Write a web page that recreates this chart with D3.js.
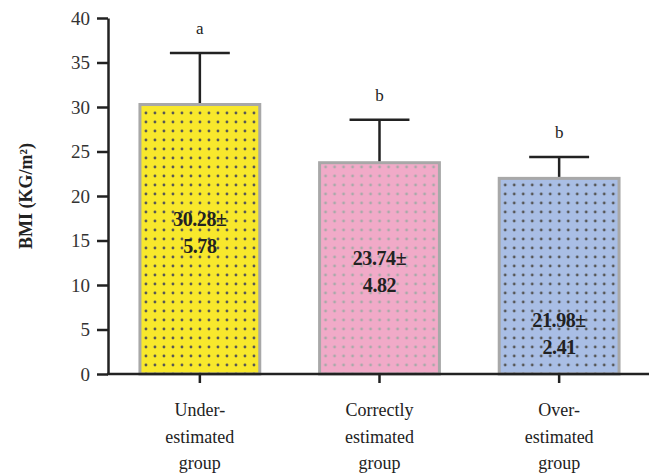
<!DOCTYPE html>
<html>
<head>
<meta charset="utf-8">
<script src="https://cdn.jsdelivr.net/npm/d3@7"></script>
<style>
  body { margin: 0; background: #fff; }
  svg { display: block; }
  svg text { font-family: "Liberation Serif", "Times New Roman", Times, serif; }
</style>
</head>
<body>
<div id="chart"></div>
<script>
// data
const groups = [["Under-", "estimated", "group"], ["Correctly", "estimated", "group"], ["Over-", "estimated", "group"]];
const means = [30.28, 23.74, 21.98];
const sds = [5.78, 4.82, 2.41];
const letters = ["a", "b", "b"];
const yTicks = [0, 5, 10, 15, 20, 25, 30, 35, 40];

const fills = ["#f8e82c", "#f1aac8", "#a9bee5"];
const dotColors = ["#555", "#a9a9a9", "#555"];
// where the mean±sd text sits inside each bar (data units)
const labelAt = [15.75, 11.35, 4.4];

const width = 652, height = 474;
const margin = {left: 108, right: 3, top: 18, bottom: 100};

const svg = d3.select("#chart").append("svg")
  .attr("width", width)
  .attr("height", height);

const x = d3.scaleBand()
  .domain(d3.range(groups.length))
  .range([margin.left + 2, width - margin.right])
  .paddingInner(0.333)
  .paddingOuter(0.1667);

const y = d3.scaleLinear()
  .domain([0, 40])
  .range([height - margin.bottom, margin.top]);

const defs = svg.append("defs");
fills.forEach(function(f, i) {
  const p = defs.append("pattern")
    .attr("id", "dots" + i)
    .attr("patternUnits", "userSpaceOnUse")
    .attr("width", 9)
    .attr("height", 9)
    .attr("x", x(i) + 3)
    .attr("y", 2);
  p.append("rect").attr("width", 9).attr("height", 9).attr("fill", f);
  p.append("circle").attr("cx", 3).attr("cy", 3).attr("r", 1.4).attr("fill", dotColors[i]);
});

// bars
svg.selectAll("rect.bar")
  .data(means)
  .join("rect")
    .attr("class", "bar")
    .attr("x", (d, i) => x(i))
    .attr("y", d => y(d))
    .attr("width", x.bandwidth())
    .attr("height", d => y(0) - y(d))
    .attr("fill", (d, i) => "url(#dots" + i + ")")
    .attr("stroke", "#a8a8a8")
    .attr("stroke-width", 3);

// error bars
const capW = x.bandwidth() / 2;
const err = svg.append("g").attr("stroke", "#222").attr("stroke-width", 2.5);
means.forEach(function(m, i) {
  const cx = x(i) + x.bandwidth() / 2;
  err.append("line")
    .attr("x1", cx).attr("x2", cx)
    .attr("y1", y(m) - 1.5).attr("y2", y(m + sds[i]));
  err.append("line")
    .attr("x1", cx - capW / 2).attr("x2", cx + capW / 2)
    .attr("y1", y(m + sds[i])).attr("y2", y(m + sds[i]));
});

// significance letters
svg.selectAll("text.letter")
  .data(letters)
  .join("text")
    .attr("class", "letter")
    .attr("x", (d, i) => x(i) + x.bandwidth() / 2)
    .attr("y", (d, i) => y(means[i] + sds[i]) - 19)
    .attr("text-anchor", "middle")
    .attr("font-size", 17)
    .attr("fill", "#222")
    .text(d => d);

// mean ± sd labels
means.forEach(function(m, i) {
  const cx = x(i) + x.bandwidth() / 2;
  const t = svg.append("text")
    .attr("x", cx)
    .attr("y", y(labelAt[i]))
    .attr("text-anchor", "middle")
    .attr("font-size", 20)
    .attr("font-weight", "bold")
    .attr("letter-spacing", -0.4)
    .attr("fill", "#222");
  t.append("tspan").attr("x", cx).attr("dy", -8).text(m.toFixed(2) + "±");
  t.append("tspan").attr("x", cx).attr("dy", 27).text(sds[i].toFixed(2));
});

// y axis
const yAxis = svg.append("g")
  .attr("transform", "translate(" + margin.left + ",0)")
  .call(d3.axisLeft(y).tickValues(yTicks).tickSize(11).tickPadding(7).tickSizeOuter(0));
yAxis.attr("font-family", null);
yAxis.select(".domain").attr("stroke", "#222").attr("stroke-width", 2.5);
yAxis.selectAll(".tick line").attr("stroke", "#222").attr("stroke-width", 2.5);
yAxis.selectAll(".tick text")
  .attr("font-size", 19)
  .attr("fill", "#333");

// x axis
const xAxis = svg.append("g")
  .attr("transform", "translate(0," + y(0) + ")")
  .call(d3.axisBottom(x).tickSize(9).tickSizeOuter(0).tickFormat(""));
xAxis.select(".domain").attr("stroke", "#222").attr("stroke-width", 2.5)
  .attr("d", "M" + (margin.left - 1) + ",0H" + (width - margin.right));
xAxis.selectAll(".tick line").attr("stroke", "#222").attr("stroke-width", 2.5);

groups.forEach(function(lines, i) {
  const t = svg.append("text")
    .attr("text-anchor", "middle")
    .attr("font-size", 18)
    .attr("fill", "#222")
    .attr("y", y(0) + 42);
  lines.forEach(function(l, k) {
    t.append("tspan")
      .attr("x", x(i) + x.bandwidth() / 2)
      .attr("dy", k === 0 ? 0 : 26.5)
      .text(l);
  });
});

// y axis title
svg.append("text")
  .attr("transform", "translate(32," + (y(20)) + ") rotate(-90)")
  .attr("text-anchor", "middle")
  .attr("font-size", 18)
  .attr("font-weight", "bold")
  .attr("fill", "#222")
  .text("BMI (KG/m²)");
</script>
</body>
</html>
